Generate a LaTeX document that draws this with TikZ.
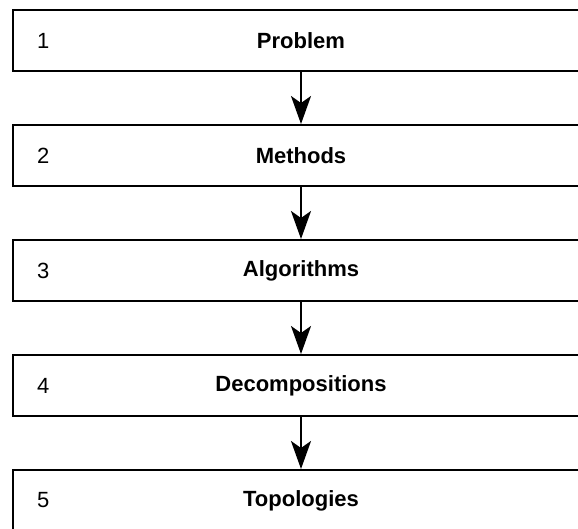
\documentclass[tikz,border=0pt]{standalone}
\usepackage{fontspec}
\setmainfont{Liberation Sans}
\usetikzlibrary{positioning,arrows.meta}

\tikzset{
  stage/.style={draw, line width=2pt, minimum width=576pt, minimum height=61pt,
    inner sep=0pt, font=\fontsize{22}{26}\selectfont\bfseries},
  num/.style={inner sep=0pt, anchor=west, font=\fontsize{22}{26}\selectfont},
  flow/.style={-{Stealth[length=28pt,width=20pt,inset=7pt]}, line width=2pt}
}

\begin{document}
\begin{tikzpicture}[x=1pt,y=-1pt,node distance=52pt]
  \useasboundingbox (0,0) rectangle (578,529);
  \clip (0,0) rectangle (578,529);

  \node[stage, anchor=north west] (problem) at (12,9) {Problem};
    \node[num, right=25pt of problem.west] (n1) {1};
  \node[stage, below=of problem] (methods) {Methods};
    \node[num, right=25pt of methods.west] (n2) {2};
  \node[stage, below=of methods] (algo) {Algorithms};
    \node[num, right=25pt of algo.west] (n3) {3};
  \node[stage, below=of algo] (decomp) {Decompositions};
    \node[num, right=25pt of decomp.west] (n4) {4};
  \node[stage, below=of decomp] (topo) {Topologies};
    \node[num, right=25pt of topo.west] (n5) {5};

  \draw[flow] (problem) -- (methods);
  \draw[flow] (methods) -- (algo);
  \draw[flow] (algo) -- (decomp);
  \draw[flow] (decomp) -- (topo);

\end{tikzpicture}
\end{document}
